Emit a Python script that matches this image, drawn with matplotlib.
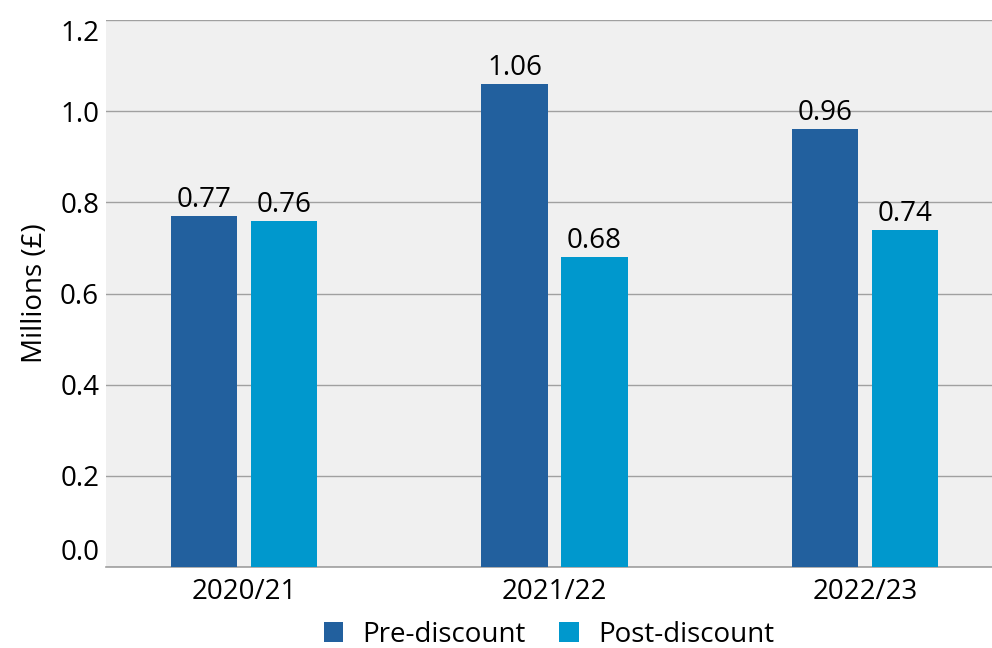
import numpy as np
import matplotlib.pyplot as plt

years = ["2020/21", "2021/22", "2022/23"]
pre_discount = [0.77, 1.06, 0.96]
post_discount = [0.76, 0.68, 0.74]

PRE_COLOR = "#22609e"
POST_COLOR = "#0098cd"
FS = 20

plt.rcParams['font.family'] = ['Open Sans', 'DejaVu Sans']

fig = plt.figure(figsize=(9.92, 6.48), dpi=100)
ax = fig.add_axes([0.107, 0.125, 0.893, 0.844])
ax.set_facecolor("#f0f0f0")

x = np.arange(len(years))
w = 0.213
off = 0.129
b1 = ax.bar(x - off, pre_discount, w, color=PRE_COLOR, label="Pre-discount", zorder=3)
b2 = ax.bar(x + off, post_discount, w, color=POST_COLOR, label="Post-discount", zorder=3)

for bars, vals in ((b1, pre_discount), (b2, post_discount)):
    for b, v in zip(bars, vals):
        ax.annotate(f"{v:.2f}", (b.get_x() + b.get_width() / 2, v),
                    xytext=(0, 1.5), textcoords="offset points",
                    ha="center", va="bottom", fontsize=FS)

ax.set_xlim(-0.445, 2.41)
ax.set_ylim(0, 1.2)
ax.set_yticks(np.arange(0, 1.21, 0.2))
ax.set_yticklabels([f"{t:.1f}" for t in np.arange(0, 1.21, 0.2)])
ax.set_xticks(x)
ax.set_xticklabels(years)
ax.tick_params(axis="both", length=0, labelsize=FS)
ax.tick_params(axis="x", pad=8)
ax.tick_params(axis="y", pad=5)
labels = ax.get_yticklabels()
labels[0].set_va("bottom")
labels[-1].set_va("top")

ax.grid(axis="y", color="#a0a0a0", linewidth=1, zorder=1)
for s in ("top", "right", "left"):
    ax.spines[s].set_visible(False)
ax.spines["bottom"].set_color("#a0a0a0")
ax.spines["bottom"].set_linewidth(1.2)

ax.set_ylabel("Millions (£)", fontsize=FS, labelpad=8)

ax.legend(loc="center", bbox_to_anchor=(0.5, -0.124), ncol=2,
          frameon=False, fontsize=FS, handlelength=0.7, handleheight=0.7,
          handletextpad=0.7, columnspacing=1.2)

fig.savefig("out.png", dpi=100, facecolor="white")
